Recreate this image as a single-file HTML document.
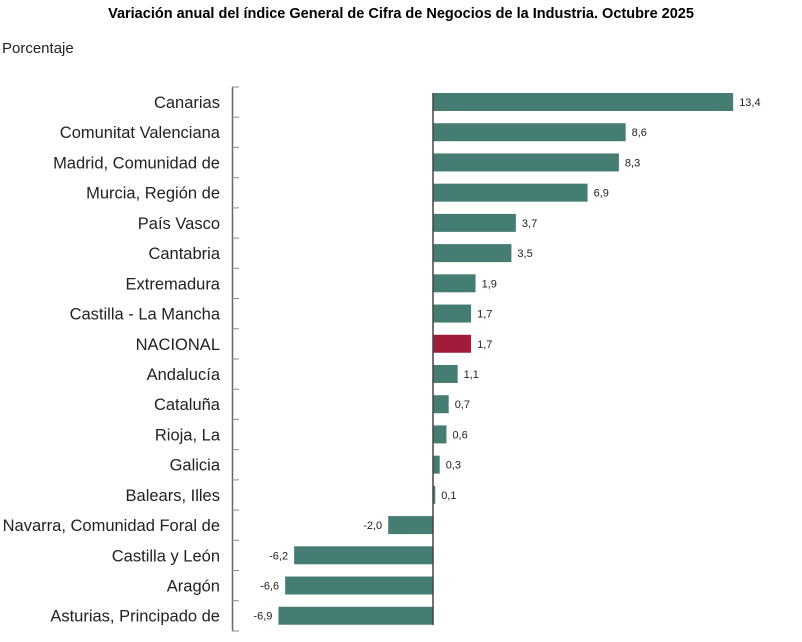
<!DOCTYPE html>
<html><head><meta charset="utf-8"><style>
body{margin:0;background:#fff;}
svg{display:block;font-family:"Liberation Sans",Arial,sans-serif;}
</style></head><body>
<svg width="802" height="642" viewBox="0 0 802 642">
<text x="401" y="18" text-anchor="middle" font-size="14.5" font-weight="bold" fill="#000">Variación anual del índice General de Cifra de Negocios de la Industria. Octubre 2025</text>
<text x="2" y="53" font-size="15" fill="#222">Porcentaje</text>
<line x1="232.5" y1="87" x2="232.5" y2="631" stroke="#666" stroke-width="1.5"/>
<g stroke="#888" stroke-width="1">
<line x1="232" y1="87" x2="239" y2="87"/><line x1="232" y1="117.2" x2="239" y2="117.2"/><line x1="232" y1="147.4" x2="239" y2="147.4"/><line x1="232" y1="177.7" x2="239" y2="177.7"/><line x1="232" y1="207.9" x2="239" y2="207.9"/><line x1="232" y1="238.1" x2="239" y2="238.1"/><line x1="232" y1="268.3" x2="239" y2="268.3"/><line x1="232" y1="298.5" x2="239" y2="298.5"/><line x1="232" y1="328.8" x2="239" y2="328.8"/><line x1="232" y1="359" x2="239" y2="359"/><line x1="232" y1="389.2" x2="239" y2="389.2"/><line x1="232" y1="419.4" x2="239" y2="419.4"/><line x1="232" y1="449.6" x2="239" y2="449.6"/><line x1="232" y1="479.9" x2="239" y2="479.9"/><line x1="232" y1="510.1" x2="239" y2="510.1"/><line x1="232" y1="540.3" x2="239" y2="540.3"/><line x1="232" y1="570.5" x2="239" y2="570.5"/><line x1="232" y1="600.7" x2="239" y2="600.7"/><line x1="232" y1="631" x2="239" y2="631"/>
</g>
<g fill="#467d73">
<rect x="433" y="93" width="300.16" height="18"/>
<rect x="433" y="123.22" width="192.64" height="18"/>
<rect x="433" y="153.44" width="185.92" height="18"/>
<rect x="433" y="183.66" width="154.56" height="18"/>
<rect x="433" y="213.88" width="82.88" height="18"/>
<rect x="433" y="244.1" width="78.4" height="18"/>
<rect x="433" y="274.32" width="42.56" height="18"/>
<rect x="433" y="304.54" width="38.08" height="18"/>
<rect x="433" y="334.76" width="38.08" height="18" fill="#a01c3a"/>
<rect x="433" y="364.98" width="24.64" height="18"/>
<rect x="433" y="395.2" width="15.68" height="18"/>
<rect x="433" y="425.42" width="13.44" height="18"/>
<rect x="433" y="455.64" width="6.72" height="18"/>
<rect x="433" y="485.86" width="2.24" height="18"/>
<rect x="388.2" y="516.08" width="44.8" height="18"/>
<rect x="294.12" y="546.3" width="138.88" height="18"/>
<rect x="285.16" y="576.52" width="147.84" height="18"/>
<rect x="278.44" y="606.74" width="154.56" height="18"/>
</g>
<g font-size="16.5" fill="#222" text-anchor="end">
<text x="220" y="108">Canarias</text>
<text x="220" y="138.2">Comunitat Valenciana</text>
<text x="220" y="168.4">Madrid, Comunidad de</text>
<text x="220" y="198.7">Murcia, Región de</text>
<text x="220" y="228.9">País Vasco</text>
<text x="220" y="259.1">Cantabria</text>
<text x="220" y="289.3">Extremadura</text>
<text x="220" y="319.5">Castilla - La Mancha</text>
<text x="220" y="349.8">NACIONAL</text>
<text x="220" y="380">Andalucía</text>
<text x="220" y="410.2">Cataluña</text>
<text x="220" y="440.4">Rioja, La</text>
<text x="220" y="470.6">Galicia</text>
<text x="220" y="500.9">Balears, Illes</text>
<text x="220" y="531.1">Navarra, Comunidad Foral de</text>
<text x="220" y="561.3">Castilla y León</text>
<text x="220" y="591.5">Aragón</text>
<text x="220" y="621.7">Asturias, Principado de</text>
</g>
<g font-size="11" fill="#222">
<text x="739.2" y="106">13,4</text>
<text x="631.6" y="136.2">8,6</text>
<text x="624.9" y="166.4">8,3</text>
<text x="593.6" y="196.7">6,9</text>
<text x="521.9" y="226.9">3,7</text>
<text x="517.4" y="257.1">3,5</text>
<text x="481.6" y="287.3">1,9</text>
<text x="477.1" y="317.5">1,7</text>
<text x="477.1" y="347.8">1,7</text>
<text x="463.6" y="378">1,1</text>
<text x="454.7" y="408.2">0,7</text>
<text x="452.4" y="438.4">0,6</text>
<text x="445.7" y="468.6">0,3</text>
<text x="441.2" y="498.9">0,1</text>
<g text-anchor="end">
<text x="382.2" y="529.1">-2,0</text>
<text x="288.1" y="559.3">-6,2</text>
<text x="279.2" y="589.5">-6,6</text>
<text x="272.4" y="619.7">-6,9</text>
</g>
</g>
<line x1="433" y1="93" x2="433" y2="625" stroke="#444" stroke-width="1.5"/>
</svg>
</body></html>
